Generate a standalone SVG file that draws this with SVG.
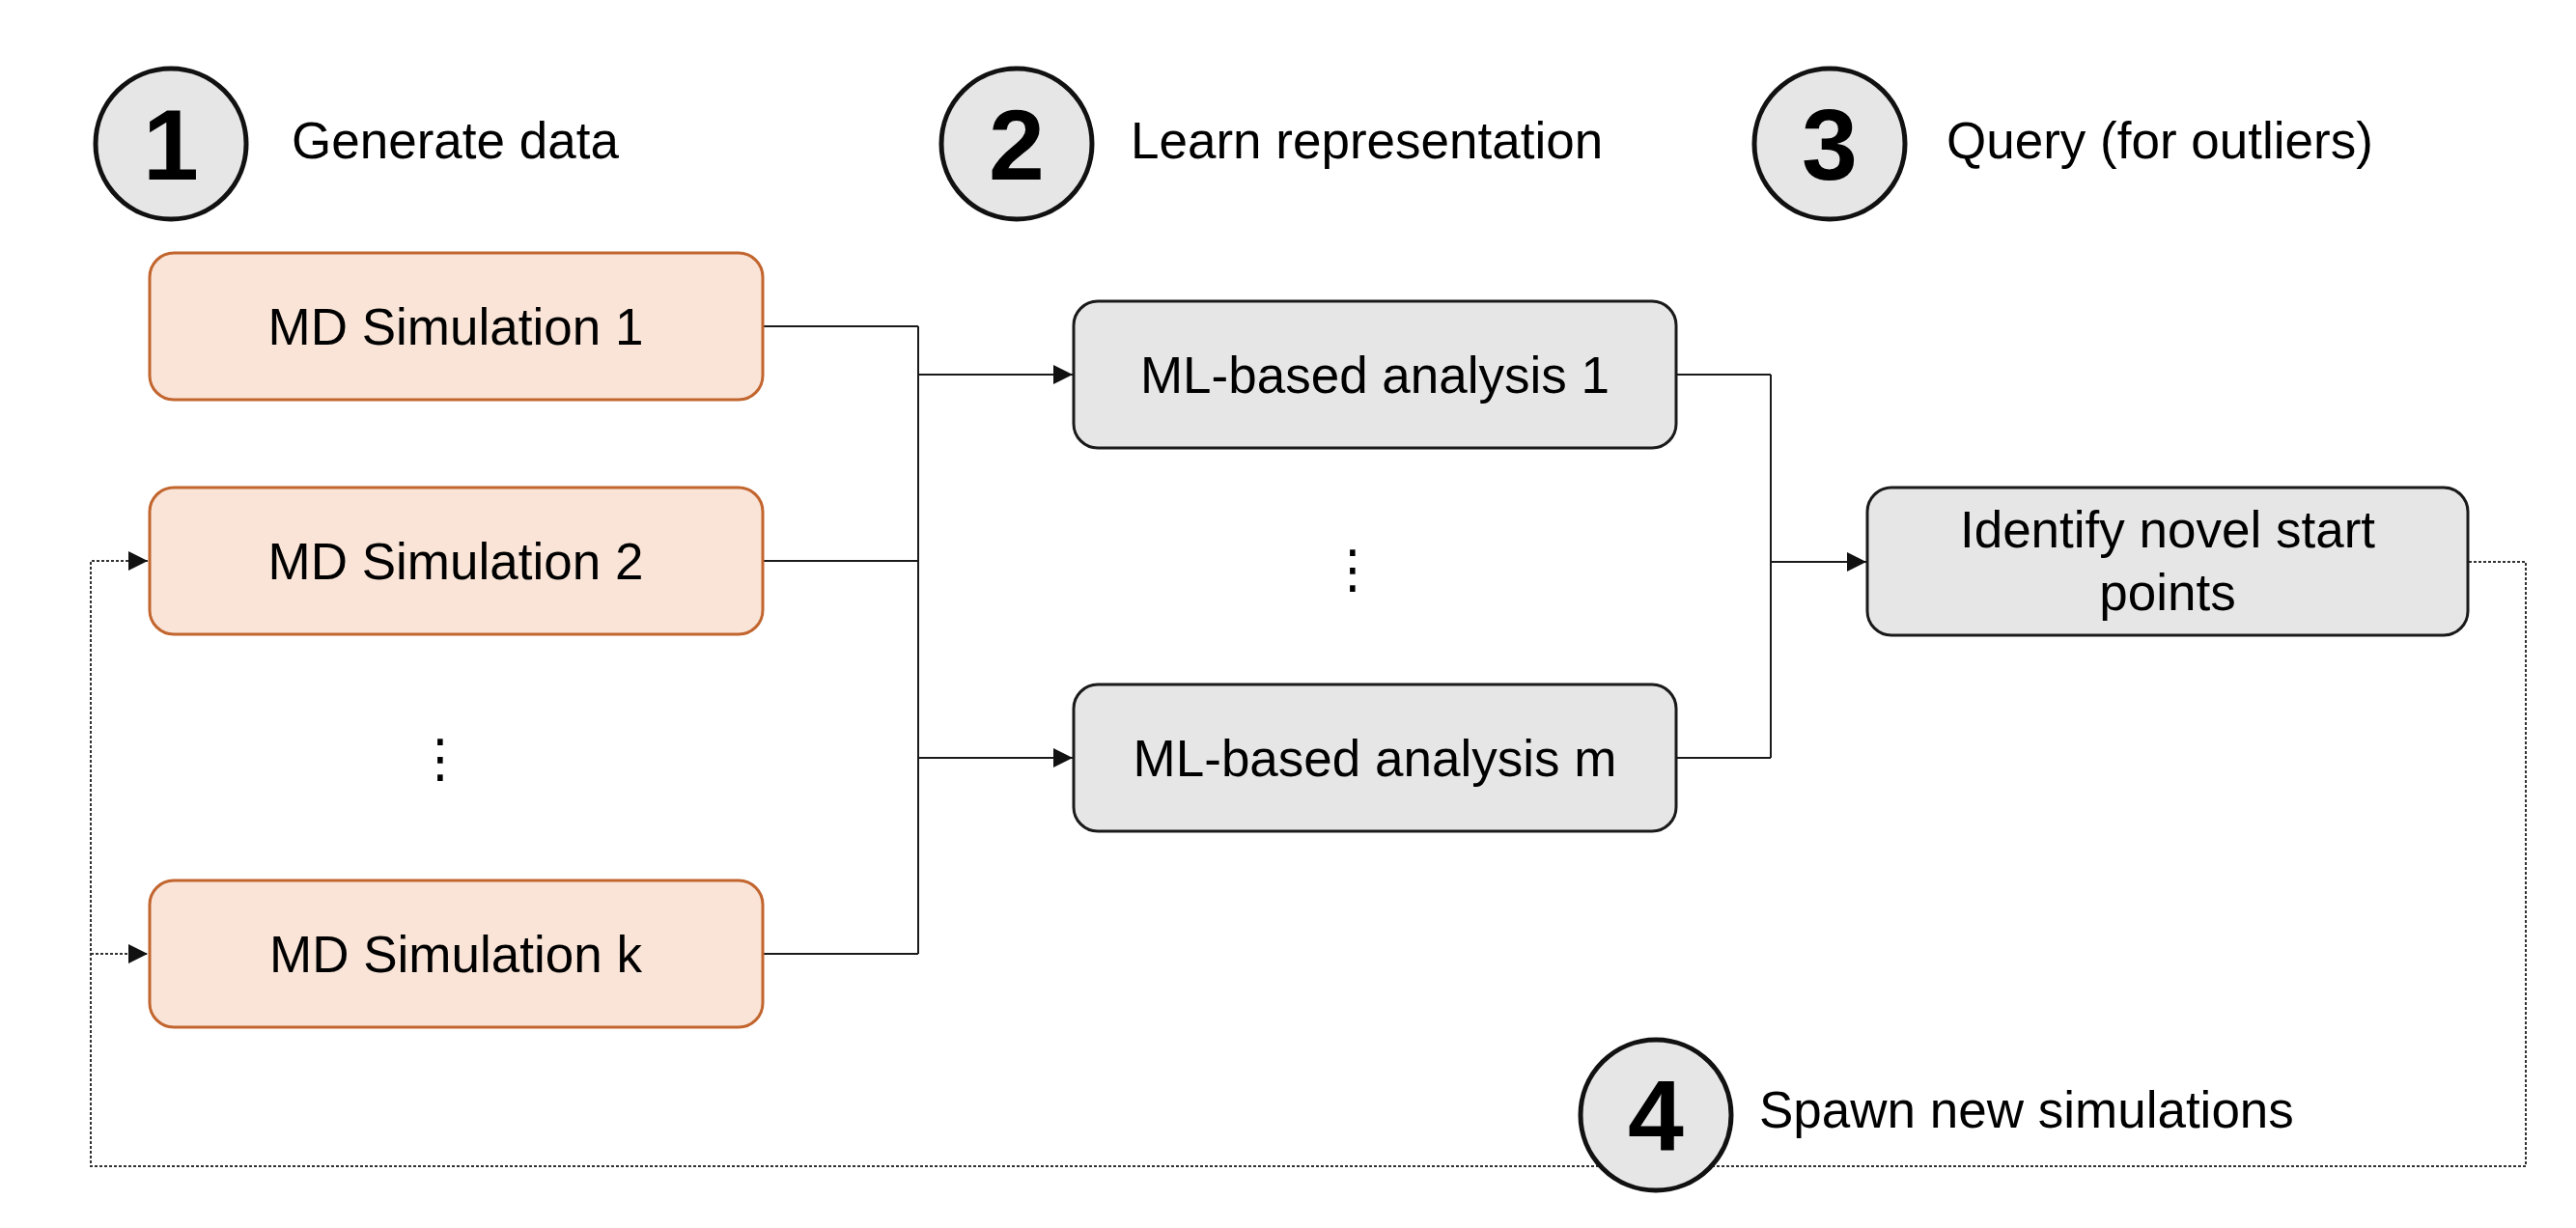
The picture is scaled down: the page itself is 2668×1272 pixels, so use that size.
<svg xmlns="http://www.w3.org/2000/svg" width="2668" height="1272" viewBox="0 0 2668 1272">
  <style>
    .txt { font-family: "Liberation Sans", Arial, Helvetica, sans-serif; font-size: 53px; fill: #000; }
    .num { font-family: "Liberation Sans", Arial, Helvetica, sans-serif; font-size: 104px; font-weight: bold; fill: #000; text-anchor: middle; }
    .mid { text-anchor: middle; }
    .md { fill: #f9e4d7; stroke: #c2652e; stroke-width: 3; }
    .ml { fill: #e6e6e6; stroke: #1a1a1a; stroke-width: 3; }
    .step { fill: #e6e6e6; stroke: #111; stroke-width: 5; }
    .conn { fill: none; stroke: #1a1a1a; stroke-width: 2; }
    .dash { fill: none; stroke: #333; stroke-width: 2; stroke-dasharray: 3 2; }
    .dots { font-family: "DejaVu Sans", sans-serif; font-size: 54px; fill: #000; text-anchor: middle; }
  </style>
  <defs>
    <marker id="arr" markerWidth="20" markerHeight="20" refX="20" refY="10" orient="auto" markerUnits="userSpaceOnUse">
      <path d="M0,0 L20,10 L0,20 Z" fill="#111"/>
    </marker>
  </defs>
  <rect x="0" y="0" width="2668" height="1272" fill="#fff"/>

  <g id="connectors">
    <path class="conn" d="M790,338 H951"/>
    <path class="conn" d="M790,581 H951"/>
    <path class="conn" d="M790,988 H951"/>
    <path class="conn" d="M951,338 V988"/>
    <path class="conn" d="M951,388 H1111" marker-end="url(#arr)"/>
    <path class="conn" d="M951,785 H1111" marker-end="url(#arr)"/>
    <path class="conn" d="M1736,388 H1834"/>
    <path class="conn" d="M1736,785 H1834"/>
    <path class="conn" d="M1834,388 V785"/>
    <path class="conn" d="M1834,582 H1933" marker-end="url(#arr)"/>
    <path class="dash" d="M2557,582 H2616 V1208 H94 V581 H153" marker-end="url(#arr)"/>
    <path class="dash" d="M94,988 H153" marker-end="url(#arr)"/>
  </g>

  <g id="step1">
    <circle class="step" cx="177" cy="149" r="78"/>
    <text class="num" x="177" y="186">1</text>
    <text class="txt" x="302" y="164">Generate data</text>
  </g>
  <g id="step2">
    <circle class="step" cx="1053" cy="149" r="78"/>
    <text class="num" x="1053" y="186">2</text>
    <text class="txt" x="1171" y="164">Learn representation</text>
  </g>
  <g id="step3">
    <circle class="step" cx="1895" cy="149" r="78"/>
    <text class="num" x="1895" y="186">3</text>
    <text class="txt" x="2016" y="164">Query (for outliers)</text>
  </g>
  <g id="step4">
    <circle class="step" cx="1715" cy="1155" r="78"/>
    <text class="num" x="1715" y="1192">4</text>
    <text class="txt" x="1822" y="1168">Spawn new simulations</text>
  </g>

  <g id="md1">
    <rect class="md" x="155" y="262" width="635" height="152" rx="25"/>
    <text class="txt mid" x="472" y="357">MD Simulation 1</text>
  </g>
  <g id="md2">
    <rect class="md" x="155" y="505" width="635" height="152" rx="25"/>
    <text class="txt mid" x="472" y="600">MD Simulation 2</text>
  </g>
  <g id="md-dots">
    <text class="dots" x="456" y="804">⋮</text>
  </g>
  <g id="mdk">
    <rect class="md" x="155" y="912" width="635" height="152" rx="25"/>
    <text class="txt mid" x="472" y="1007">MD Simulation k</text>
  </g>

  <g id="ml1">
    <rect class="ml" x="1112" y="312" width="624" height="152" rx="25"/>
    <text class="txt mid" x="1424" y="407">ML-based analysis 1</text>
  </g>
  <g id="ml-dots">
    <text class="dots" x="1401" y="608">⋮</text>
  </g>
  <g id="mlm">
    <rect class="ml" x="1112" y="709" width="624" height="152" rx="25"/>
    <text class="txt mid" x="1424" y="804">ML-based analysis m</text>
  </g>

  <g id="identify">
    <rect class="ml" x="1934" y="505" width="622" height="153" rx="25"/>
    <text class="txt mid" x="2245" y="567">Identify novel start</text>
    <text class="txt mid" x="2245" y="632">points</text>
  </g>
</svg>
